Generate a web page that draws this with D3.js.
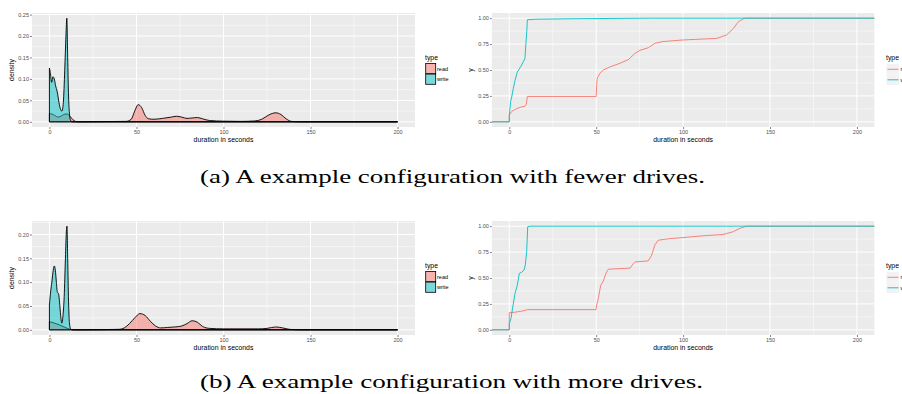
<!DOCTYPE html>
<html>
<head>
<meta charset="utf-8">
<script src="https://cdn.jsdelivr.net/npm/d3@7"></script>
<style>
  body { margin: 0; background: #fff; }
  svg { display: block; font-family: "Liberation Sans", Arial, sans-serif; }
</style>
</head>
<body>
<svg id="chart" width="902" height="394"></svg>
<script>
// ---- data ----
const types = ['read', 'write'];
const xTicks = [0, 50, 100, 150, 200];
const densityTicksA = [0, 0.05, 0.10, 0.15, 0.20, 0.25];
const densityTicksB = [0, 0.05, 0.10, 0.15, 0.20];
const ecdfTicks = [0, 0.25, 0.50, 0.75, 1.00];
const captions = ['(a) A example configuration with fewer drives.', '(b) A example configuration with more drives.'];

// density curves, [seconds, density]
const readDensityA = [[0,0.019],[1.5,0.018],[3,0.015],[5,0.011],[7,0.014],[9,0.018],[10.5,0.018],[12,0.012],[13.5,0.005],[15,0.001],[17,0],[30,0.0005],[44,0.001],[47,0.006],[49,0.025],[51,0.040],[53,0.033],[55,0.015],[57,0.007],[60,0.006],[65,0.008],[70,0.011],[73,0.013],[76,0.011],[79,0.008],[82,0.009],[85,0.010],[88,0.007],[92,0.003],[100,0.0015],[110,0.001],[118,0.002],[122,0.006],[126,0.016],[130,0.021],[133,0.017],[136,0.007],[139,0.001],[145,0],[200,0]];
const writeDensityA = [[0,0.125],[0.5,0.115],[1.3,0.092],[2.0,0.105],[2.8,0.100],[3.5,0.085],[4.5,0.070],[5.5,0.045],[6.5,0.028],[7.2,0.025],[8.0,0.045],[8.8,0.12],[9.5,0.20],[10.0,0.2415],[10.5,0.15],[11.0,0.06],[11.5,0.02],[12,0.005],[13,0],[200,0]];
const readDensityB = [[0,0.017],[3,0.014],[6,0.010],[9,0.005],[12,0.001],[15,0],[40,0.001],[43,0.004],[46,0.013],[49,0.025],[52,0.034],[55,0.030],[58,0.018],[61,0.008],[64,0.004],[68,0.005],[72,0.006],[76,0.008],[79,0.013],[82,0.019],[85,0.016],[88,0.007],[92,0.003],[100,0.002],[110,0.002],[120,0.002],[125,0.003],[130,0.006],[134,0.004],[138,0.001],[145,0],[200,0]];
const writeDensityB = [[0,0.052],[0.7,0.08],[1.4,0.10],[2.2,0.125],[2.8,0.134],[3.4,0.125],[4.0,0.100],[4.5,0.080],[5.3,0.075],[6.0,0.050],[6.6,0.025],[7.1,0.014],[7.8,0.030],[8.5,0.070],[9.2,0.150],[9.8,0.210],[10.1,0.2175],[10.5,0.150],[11.0,0.060],[11.5,0.015],[12.2,0.002],[13,0],[200,0]];

// empirical cdf, [seconds, fraction]
const readEcdfA = [[-10,0],[0,0],[0,0.066],[1.4,0.10],[3.3,0.12],[6.2,0.14],[9,0.15],[9.8,0.17],[10.4,0.245],[50,0.245],[50.3,0.36],[50.6,0.42],[52.2,0.47],[54.1,0.50],[57.9,0.53],[63.7,0.565],[68.5,0.60],[72.3,0.66],[75.2,0.69],[80,0.715],[83.8,0.757],[87.7,0.773],[92.5,0.78],[100,0.79],[119.3,0.805],[125,0.838],[128.9,0.90],[131.8,0.966],[134.3,0.99],[136,1],[210,1]];
const writeEcdfA = [[-10,0],[0,0],[0,0.06],[0.8,0.20],[1.4,0.24],[2.3,0.32],[3.3,0.40],[4.6,0.48],[6.5,0.53],[8.1,0.58],[9.0,0.61],[9.6,0.76],[10.1,0.88],[10.4,0.985],[15,0.99],[40,0.995],[80,1],[210,1]];
const readEcdfB = [[-10,0],[0,0],[0,0.165],[3.3,0.17],[7.1,0.18],[9.6,0.19],[10.4,0.195],[49.9,0.195],[50.3,0.24],[51.2,0.30],[52.6,0.43],[54.1,0.47],[55.6,0.545],[57,0.585],[69.5,0.595],[71.4,0.64],[72.3,0.655],[80,0.665],[81.9,0.72],[83.8,0.82],[85.7,0.865],[92.5,0.88],[100,0.89],[109.7,0.905],[123,0.92],[128.9,0.947],[132.7,0.98],[135.6,0.995],[137,1],[210,1]];
const writeEcdfB = [[-10,0],[0,0],[0,0.06],[1.0,0.11],[1.9,0.21],[3.3,0.35],[4.6,0.43],[5.8,0.545],[7.1,0.555],[8.5,0.577],[9.2,0.625],[10,0.754],[10.6,0.995],[12,1],[210,1]];

// ---- styles ----
const colors = { read: '#F8766D', write: '#00BFC4' };
const tickFont = 5.5;
const titleFont = 6.9;

const svg = d3.select('#chart');

function minorOf(ticks, domain) {
  const step = ticks[1] - ticks[0];
  const out = [];
  for (let v = ticks[0] - step / 2; v <= ticks[ticks.length - 1] + step; v += step) {
    if (v >= domain[0] && v <= domain[1]) out.push(v);
  }
  return out;
}

function drawPanel(box, yTicks, yDomain, yFormat, yTitle, yTitleX) {
  const g = svg.append('g');
  const x = d3.scaleLinear().domain([-10, 210]).range([box.left, box.right]);
  const y = d3.scaleLinear().domain(yDomain).range([box.bottom, box.top]);

  g.append('rect')
    .attr('x', box.left).attr('y', box.top)
    .attr('width', box.right - box.left).attr('height', box.bottom - box.top)
    .attr('fill', '#EBEBEB');

  const grid = g.append('g').attr('stroke', '#fff');
  grid.selectAll('.vminor').data(minorOf(xTicks, x.domain())).enter().append('line')
    .attr('x1', d => x(d)).attr('x2', d => x(d)).attr('y1', box.top).attr('y2', box.bottom)
    .attr('stroke-width', 0.5);
  grid.selectAll('.hminor').data(minorOf(yTicks, y.domain())).enter().append('line')
    .attr('y1', d => y(d)).attr('y2', d => y(d)).attr('x1', box.left).attr('x2', box.right)
    .attr('stroke-width', 0.5);
  grid.selectAll('.vmajor').data(xTicks).enter().append('line')
    .attr('x1', d => x(d)).attr('x2', d => x(d)).attr('y1', box.top).attr('y2', box.bottom)
    .attr('stroke-width', 1);
  grid.selectAll('.hmajor').data(yTicks).enter().append('line')
    .attr('y1', d => y(d)).attr('y2', d => y(d)).attr('x1', box.left).attr('x2', box.right)
    .attr('stroke-width', 1);

  const xa = g.append('g')
    .attr('transform', `translate(0,${box.bottom})`)
    .call(d3.axisBottom(x).tickValues(xTicks).tickSize(2).tickPadding(1).tickFormat(d3.format('d')));
  const ya = g.append('g')
    .attr('transform', `translate(${box.left},0)`)
    .call(d3.axisLeft(y).tickValues(yTicks).tickSize(2).tickPadding(1).tickFormat(d3.format(yFormat)));
  [xa, ya].forEach(a => {
    a.select('.domain').remove();
    a.selectAll('line').attr('stroke', '#333').attr('stroke-width', 0.6);
    a.selectAll('text').attr('fill', '#4D4D4D').attr('font-size', tickFont).attr('font-family', null);
  });

  g.append('text')
    .attr('x', (box.left + box.right) / 2).attr('y', box.bottom + 14.8)
    .attr('text-anchor', 'middle').attr('font-size', titleFont).attr('fill', '#000')
    .text('duration in seconds');
  g.append('text')
    .attr('transform', `translate(${yTitleX},${(box.top + box.bottom) / 2}) rotate(-90)`)
    .attr('text-anchor', 'middle').attr('font-size', titleFont).attr('fill', '#000')
    .text(yTitle);

  return { g, x, y };
}

function drawDensity(box, readPts, writePts, yTicks) {
  const yMax = d3.max(readPts.concat(writePts), d => d[1]);
  const pad = yMax * 0.05;
  const p = drawPanel(box, yTicks, [-pad, yMax + pad], '.2f', 'density', 13.5);
  const area = d3.area()
    .x(d => p.x(d[0])).y0(p.y(0)).y1(d => p.y(d[1]))
    .curve(d3.curveMonotoneX);
  [readPts, writePts].forEach((pts, i) => {
    p.g.append('path')
      .attr('d', area(pts))
      .attr('fill', colors[types[i]]).attr('fill-opacity', 0.5)
      .attr('stroke', '#000').attr('stroke-width', 0.9).attr('stroke-linejoin', 'round');
  });

  // legend
  const lg = svg.append('g');
  lg.append('text').attr('x', 425).attr('y', box.top + 46.5)
    .attr('font-size', titleFont).text('type');
  types.forEach((t, i) => {
    const ky = box.top + 50.5 + i * 10.6;
    lg.append('rect').attr('x', 425.7).attr('y', ky).attr('width', 10).attr('height', 10.2)
      .attr('fill', '#F2F2F2');
    lg.append('rect').attr('x', 425.7).attr('y', ky).attr('width', 10).attr('height', 10.2)
      .attr('fill', colors[t]).attr('fill-opacity', 0.5)
      .attr('stroke', '#000').attr('stroke-width', 0.8);
    lg.append('text').attr('x', 437).attr('y', ky + 7)
      .attr('font-size', tickFont).attr('fill', '#000').text(t);
  });
}

function drawEcdf(box, readPts, writePts) {
  const p = drawPanel(box, ecdfTicks, [-0.05, 1.05], '.2f', 'y', 472.8);
  const line = d3.line().x(d => p.x(d[0])).y(d => p.y(d[1]));
  [readPts, writePts].forEach((pts, i) => {
    p.g.append('path')
      .attr('d', line(pts))
      .attr('fill', 'none')
      .attr('stroke', colors[types[i]]).attr('stroke-width', 0.9);
  });

  const lg = svg.append('g');
  lg.append('text').attr('x', 886).attr('y', box.top + 46.5)
    .attr('font-size', titleFont).text('type');
  types.forEach((t, i) => {
    const ky = box.top + 51 + i * 10.5;
    lg.append('rect').attr('x', 886.5).attr('y', ky).attr('width', 12.5).attr('height', 10.5)
      .attr('fill', '#F2F2F2');
    lg.append('line').attr('x1', 887.5).attr('x2', 898.5)
      .attr('y1', ky + 5.3).attr('y2', ky + 5.3)
      .attr('stroke', colors[t]).attr('stroke-width', 0.9);
    lg.append('text').attr('x', 900.5).attr('y', ky + 7)
      .attr('font-size', tickFont).attr('fill', '#000').text(t);
  });
}

const rows = [13, 221];
drawDensity({ left: 32, right: 415, top: rows[0], bottom: rows[0] + 114 }, readDensityA, writeDensityA, densityTicksA);
drawEcdf({ left: 491.9, right: 874.3, top: rows[0], bottom: rows[0] + 114 }, readEcdfA, writeEcdfA);
drawDensity({ left: 32, right: 415, top: rows[1], bottom: rows[1] + 114 }, readDensityB, writeDensityB, densityTicksB);
drawEcdf({ left: 491.9, right: 874.3, top: rows[1], bottom: rows[1] + 114 }, readEcdfB, writeEcdfB);

// captions
captions.forEach((c, i) => {
  svg.append('text')
    .attr('x', 200).attr('y', [183, 388][i])
    .attr('font-family', '"Liberation Serif", "DejaVu Serif", serif')
    .attr('font-size', 18.5)
    .attr('textLength', [505, 503][i]).attr('lengthAdjust', 'spacingAndGlyphs')
    .attr('fill', '#000')
    .text(c);
});
</script>
</body>
</html>
